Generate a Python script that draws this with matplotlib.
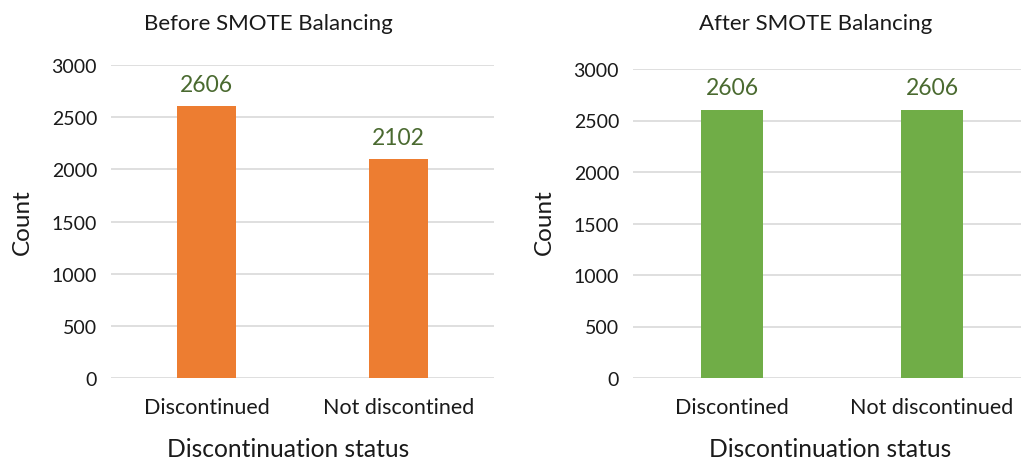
import matplotlib
matplotlib.use("Agg")
import matplotlib.pyplot as plt

plt.rcParams['font.family'] = ['Lato', 'DejaVu Sans']

before_categories = ["Discontinued", "Not discontined"]
before_counts = [2606, 2102]
after_categories = ["Discontined", "Not discontinued"]
after_counts = [2606, 2606]
y_ticks = [0, 500, 1000, 1500, 2000, 2500, 3000]

W, H = 1021, 460
fig = plt.figure(figsize=(W / 100, H / 100), dpi=100)


def px_axes(x0, y0, x1, y1):
    return fig.add_axes([x0 / W, 1 - y1 / H, (x1 - x0) / W, (y1 - y0) / H])


def draw_panel(ax, cats, vals, color, title, xlim, title_x, ylabel_x, xlabel_x):
    x = list(range(len(cats)))
    ax.bar(x, vals, width=0.31, color=color, zorder=3)
    for xi, v in zip(x, vals):
        ax.annotate(f"{v}", (xi, v), xytext=(0, 8), textcoords="offset points",
                    ha="center", va="bottom", fontsize=16.5, color="#4a6a30")
    ax.set_ylim(0, 3000)
    ax.set_xlim(*xlim)
    ax.set_yticks(y_ticks)
    ax.set_xticks(x)
    ax.set_xticklabels(cats)
    ax.yaxis.grid(True, color="#d9d9d9", linewidth=1.2, zorder=0)
    ax.set_axisbelow(True)
    for s in ax.spines.values():
        s.set_visible(False)
    ax.tick_params(axis="both", length=0, labelsize=14, colors="#1a1a1a")
    ax.tick_params(axis="x", labelsize=15.5, pad=14)
    ax.tick_params(axis="y", pad=10)
    fig.text(title_x / W, 1 - 24 / H, title, ha="center", va="center",
             fontsize=16, color="#1a1a1a")
    fig.text(ylabel_x / W, 1 - 222 / H, "Count", ha="center", va="center",
             rotation=90, fontsize=17.5, color="#1a1a1a")
    fig.text(xlabel_x / W, 1 - 450 / H, "Discontinuation status", ha="center",
             va="center", fontsize=17.7, color="#1a1a1a")


ax1 = px_axes(111, 66, 494, 379)
draw_panel(ax1, before_categories, before_counts, "#ed7d31",
           "Before SMOTE Balancing", (-0.5, 1.5), 268, 22, 288)

ax2 = px_axes(633, 70, 1021, 379)
draw_panel(ax2, after_categories, after_counts, "#70ad47",
           "After SMOTE Balancing", (-0.495, 1.445), 816, 544, 830)

fig.savefig("out.png", dpi=100)
